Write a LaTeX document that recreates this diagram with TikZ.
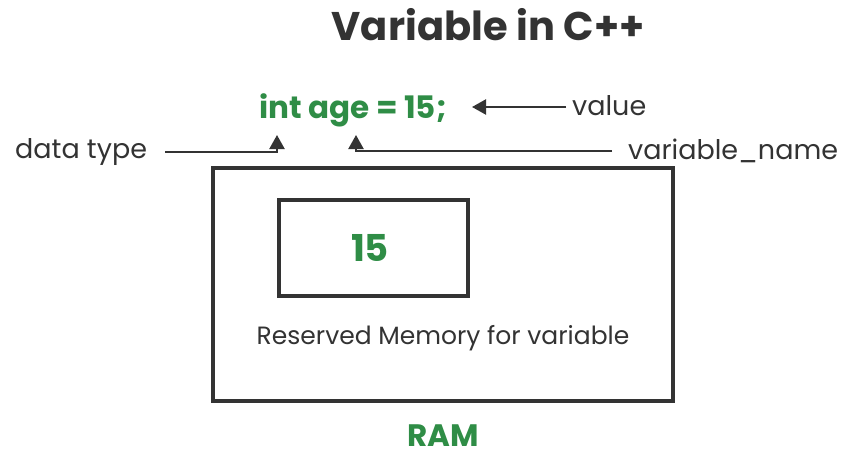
\documentclass[tikz,border=0pt]{standalone}
\usepackage{fontspec}
\setmainfont{Poppins}
\usetikzlibrary{arrows.meta}
\definecolor{gfg}{HTML}{2F8D46}
\definecolor{ink}{HTML}{333333}
\begin{document}
\begin{tikzpicture}[x=1pt,y=-1pt,
  lbl/.style={text=ink,inner sep=0pt,font=\fontsize{27}{32}\selectfont},
  code/.style={text=gfg,inner sep=0pt,font=\bfseries\fontsize{31}{36}\selectfont},
  box/.style={draw=ink,line width=3.2pt},
  conn/.style={draw=ink,line width=2.2pt,-{Triangle[length=14pt,width=15pt]}}]
\path[use as bounding box,fill=white] (0,0) rectangle (846,455);
\node[text=ink,inner sep=0pt,font=\bfseries\fontsize{40}{46}\selectfont,anchor=base] (title) at (488,40) {Variable in C++};
\node[code,anchor=base west] (code) at (259,118) {int age = 15;};
\node[lbl,anchor=base west] (value) at (572,115) {value};
\node[lbl,anchor=west] (dtype) at (15,152) {data type};
\node[lbl,anchor=west] (vname) at (628,151) {variable\_name};
\coordinate (dtip) at (277,135);
\coordinate (ntip) at (356,135);
\coordinate (vtip) at (472,107);
\coordinate (dstart) at (165,152);
\coordinate (nstart) at (612,151);
\coordinate (vstart) at (566,107);
\draw[conn] (dstart) -| (dtip);
\draw[conn] (nstart) -| (ntip);
\draw[conn] (vstart) -- (vtip);
\node[box,minimum width=460pt,minimum height=233pt,inner sep=0pt] (ram) at (443,284.5) {};
\node[box,minimum width=189pt,minimum height=96pt,inner sep=0pt] (cell) at (373.5,248) {};
\node[text=gfg,inner sep=0pt,font=\bfseries\fontsize{37}{44}\selectfont] (val) at (370,248) {15};
\node[text=ink,inner sep=0pt,font=\fontsize{25}{30}\selectfont] (res) at (443,338) {Reserved Memory for variable};
\node[text=gfg,inner sep=0pt,font=\bfseries\fontsize{31}{36}\selectfont,anchor=base] (ramlbl) at (443,446) {RAM};
\end{tikzpicture}
\end{document}
